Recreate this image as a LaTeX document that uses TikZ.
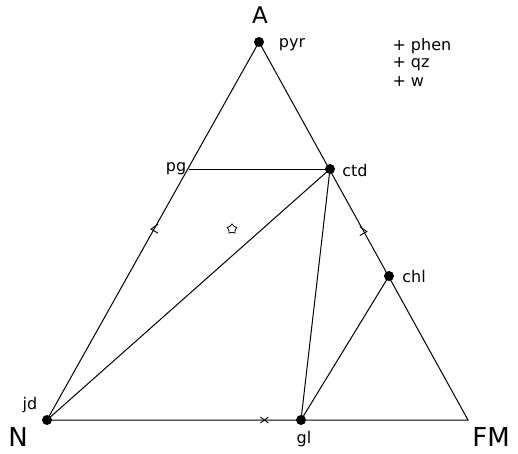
\documentclass[tikz,border=0pt]{standalone}
\usepackage{fontspec}
\setmainfont{DejaVu Sans}
\usetikzlibrary{positioning,shapes.geometric}

\begin{document}
\begin{tikzpicture}[%
    x=1pt, y=-1pt,
    line width=1pt,
    phase/.style={circle, fill=black, inner sep=0pt, minimum size=10pt},
    corner/.style={inner sep=0pt, font=\fontsize{26}{26}\selectfont},
    lbl/.style={inner sep=0pt, font=\fontsize{16}{16}\selectfont},
    legend/.style={inner sep=0pt, anchor=west, font=\fontsize{16}{16}\selectfont},
    tickmark/.style={line width=0.9pt},
  ]
  \useasboundingbox (0,0) rectangle (518,453);

  % --- phases ---
  \node[phase] (pyr) at (259,42) {};
  \node[phase] (jd) at (47,420) {};
  \coordinate (fm) at (468,420);
  \node[phase] (ctd) at (330,169) {};
  \coordinate (pg) at (189,169);
  \node[phase] (chl) at (389,276) {};
  \node[phase] (gl) at (301,420) {};

  % --- triangle ---
  \draw (jd.center) -- (pyr.center) -- (fm) -- (jd.center);

  % --- tie lines ---
  \draw (pg) -- (ctd.center);
  \draw (ctd.center) -- (jd.center);
  \draw (ctd.center) -- (gl.center);
  \draw (chl.center) -- (gl.center);

  % --- labels ---
  \node[corner, font=\fontsize{23}{23}\selectfont] (lA) at (260,15) {A};
  \node[corner] (lN) at (18,437) {N};
  \node[corner] (lFM) at (491,437) {FM};
  \node[lbl] (lpyr) at (292,45) {pyr};
  \node[lbl] (lpg) at (176,169) {pg};
  \node[lbl] (lctd) at (355,171) {ctd};
  \node[lbl] (lchl) at (414,277) {chl};
  \node[lbl] (ljd) at (30,405) {jd};
  \node[lbl] (lgl) at (304,439) {gl};

  % --- legend ---
  \node[legend] (lphen) at (392,46) {+ phen};
  \node[legend] (lqz) at (392,64) {+ qz};
  \node[legend] (lw) at (392,81) {+ w};

  % --- small marks ---
  \path (jd) -- (pyr) coordinate[pos=0.505] (m1);
  \path (pyr) -- (fm) coordinate[pos=0.495] (m2);
  \path (jd) -- (fm) coordinate[pos=0.51] (m3);
  \draw[tickmark] ([shift={(4,-5)}]m1) -- ([shift={(-3,0)}]m1) -- ([shift={(4,4)}]m1);
  \draw[tickmark] ([shift={(-4,-5)}]m2) -- ([shift={(3,0)}]m2) -- ([shift={(-4,4)}]m2);
  \draw[tickmark] ([shift={(-4,-3)}]m3) -- ([shift={(4,3)}]m3);
  \draw[tickmark] ([shift={(4,-3)}]m3) -- ([shift={(-4,3)}]m3);
  \node[star, star points=5, draw, line width=0.8pt, minimum size=10pt, inner sep=0pt] (st) at (232,229) {};
\end{tikzpicture}
\end{document}
